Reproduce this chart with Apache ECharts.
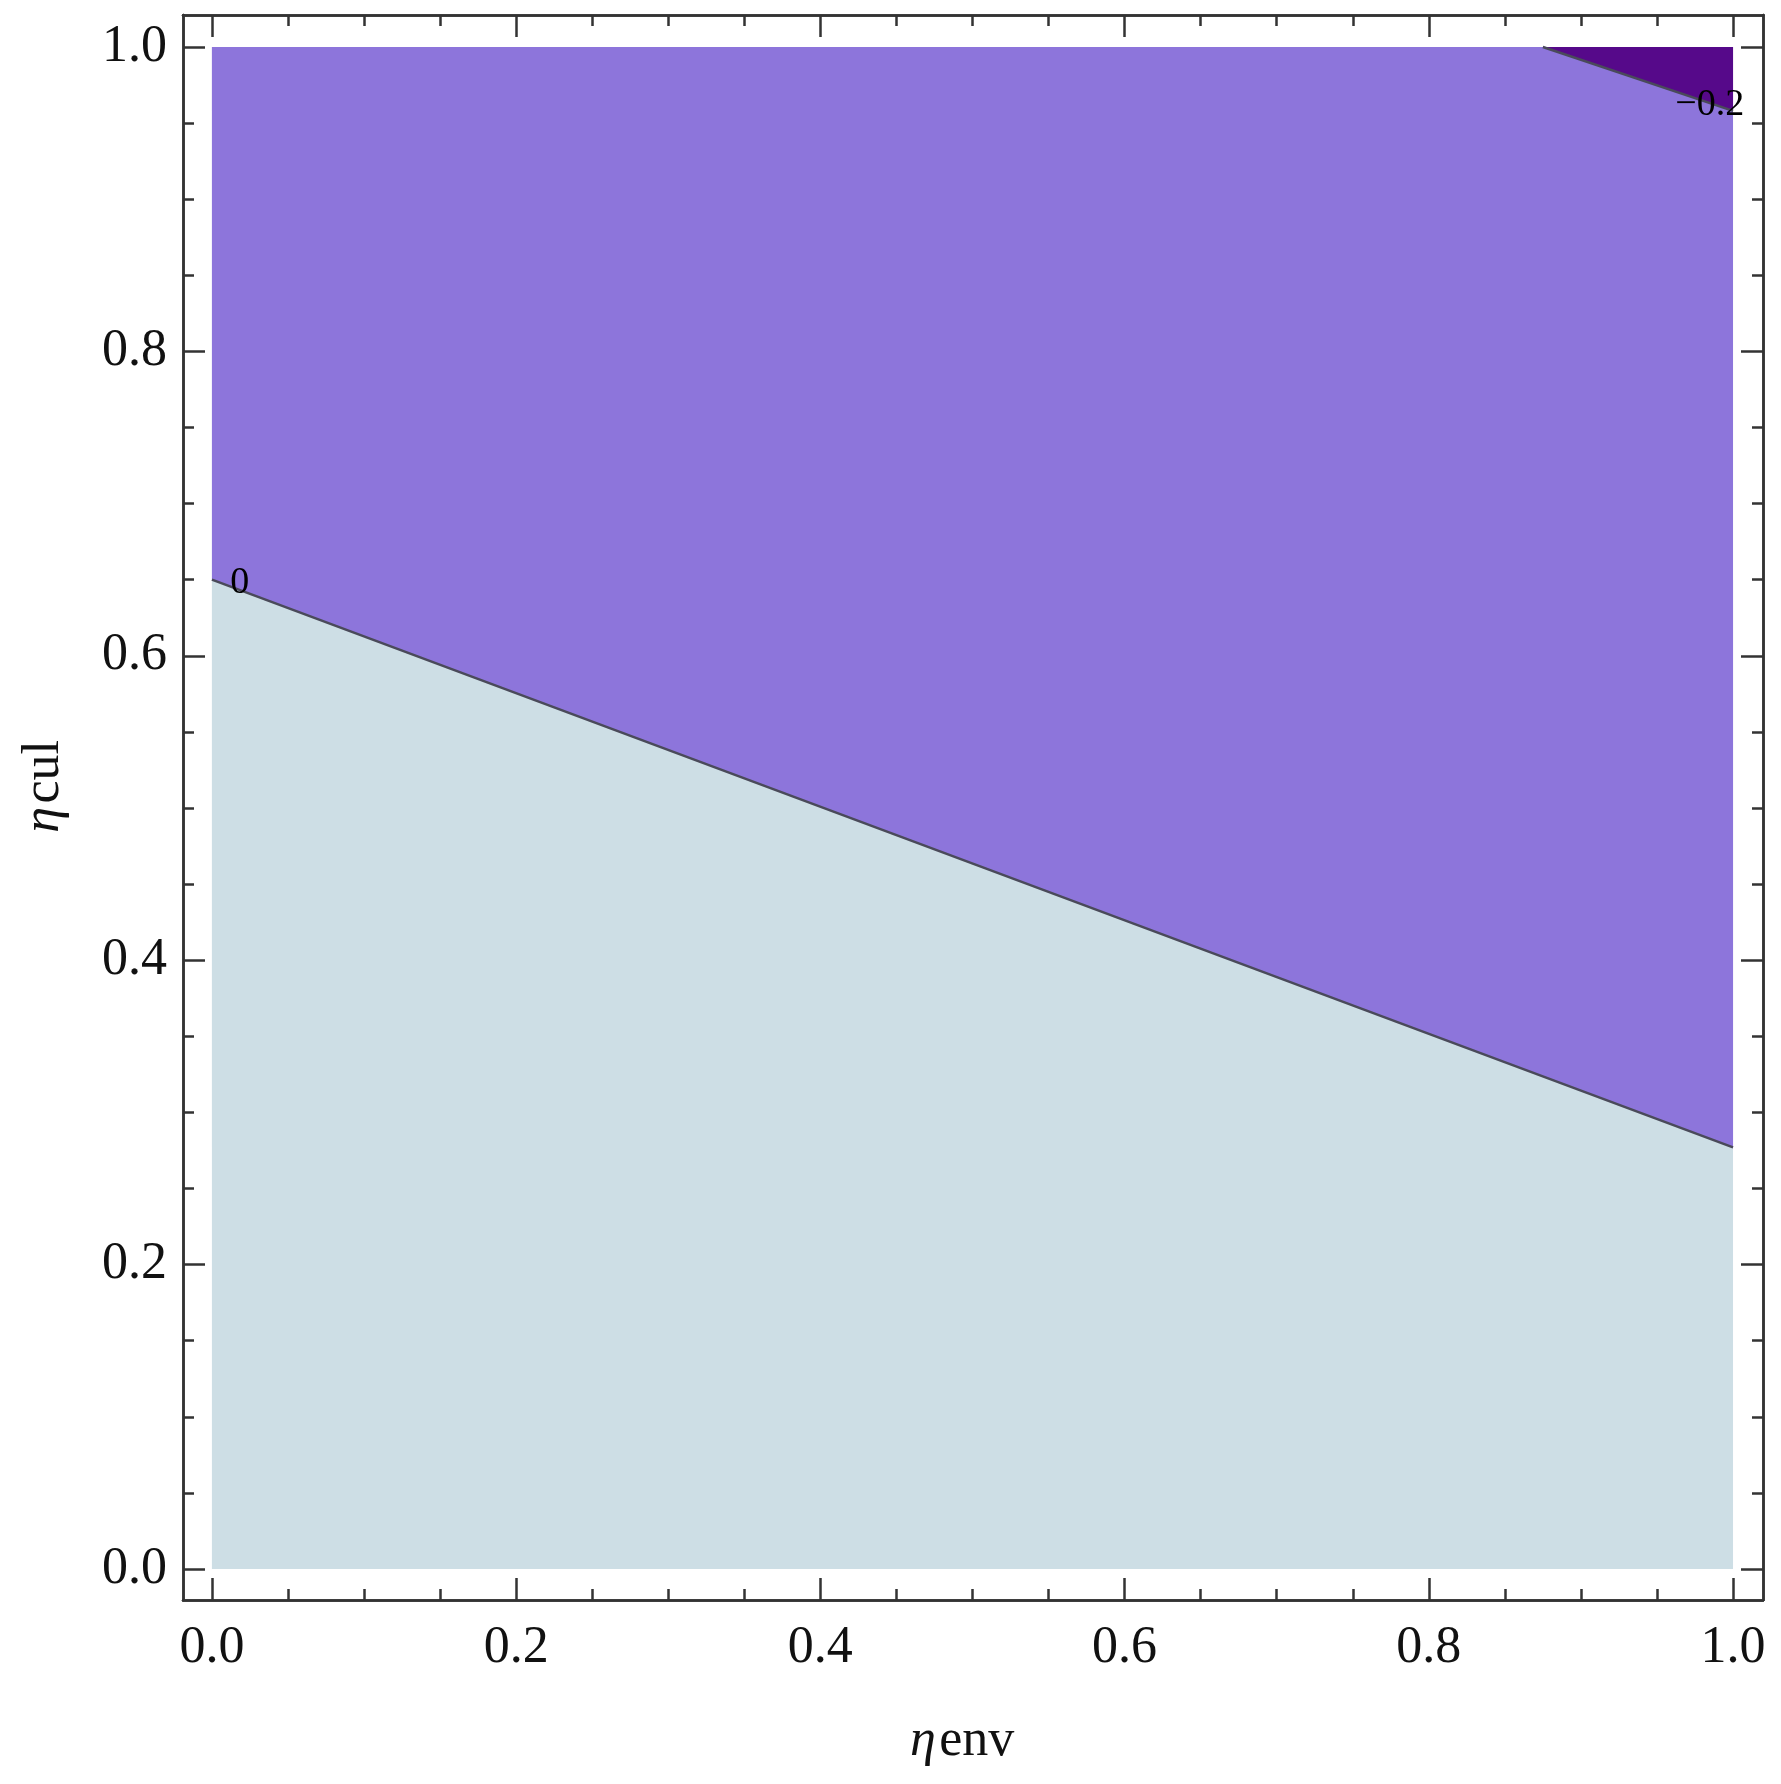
<!DOCTYPE html>
<html><head><meta charset="utf-8">
<script src="https://cdn.jsdelivr.net/npm/echarts@6/dist/echarts.min.js"></script>
<style>html,body{margin:0;padding:0;background:#fff}#c{width:1781px;height:1784px}</style>
</head><body><div id="c"></div>
<script>
const majorTicks = [0, 0.2, 0.4, 0.6, 0.8, 1.0];
const minorTicks = [0.05,0.1,0.15,0.25,0.3,0.35,0.45,0.5,0.55,0.65,0.7,0.75,0.85,0.9,0.95];
// contour level 0: eta_cul = 0.65 - 0.373*eta_env
const zeroLine = [[0, 0.65], [1, 0.277]];
// contour level -0.2
const m02Line = [[0.875, 1.0], [1, 0.958]];
const regionLow = [[0,0],[1,0],[1,0.277],[0,0.65]];
const regionMid = [[0,0.65],[1,0.277],[1,0.958],[0.875,1],[0,1]];
const regionHigh = [[0.875,1],[1,1],[1,0.958]];
const contourLabels = [{text:'0', pos:[0.012,0.648]}, {text:'\u22120.2', pos:[0.962,0.962]}];

const chart = echarts.init(document.getElementById('c'));
const font = 'Liberation Serif';
const xr = {min:-0.019, max:1.0197}, yr = {min:-0.0204, max:1.021};
function ax(pos, custom, len, labels, gi){
  return Object.assign({type:'value', position:pos, gridIndex:0}, (pos==='bottom'||pos==='top')?xr:yr, {
    axisLine:{show:true, onZero:false, lineStyle:{color:'#333', width:2.5}},
    splitLine:{show:false},
    axisTick:{show:true, inside:true, length:len, customValues:custom, lineStyle:{color:'#333', width:2.5}},
    axisLabel:{show:labels, customValues:custom, formatter:v=>v.toFixed(1), fontFamily:font, fontSize:52, color:'#111', margin: pos==='bottom'?22:16}
  });
}
const polys = [
  {pts:regionLow, color:'#cddee5'},
  {pts:regionMid, color:'#8d75db'},
  {pts:regionHigh, color:'#56098a'}
];
chart.setOption({
  animation:false,
  grid:{left:183, right:18, top:15, bottom:184},
  xAxis:[ax('bottom',majorTicks,22,true), ax('top',majorTicks,22,false), ax('bottom',minorTicks,11,false), ax('top',minorTicks,11,false)],
  yAxis:[ax('left',majorTicks,22,true), ax('right',majorTicks,22,false), ax('left',minorTicks,11,false), ax('right',minorTicks,11,false)],
  graphic:[
    {type:'text', left:'center', top:1715, style:{rich:{i:{fontStyle:'italic',fontFamily:font,fontSize:52},n:{fontFamily:font,fontSize:52}}, text:'{i|\u03b7} {n|env}', fill:'#111', x:0}, left:910},
    {type:'text', left:18, top:740, rotation:Math.PI/2, style:{rich:{i:{fontStyle:'italic',fontFamily:font,fontSize:52},n:{fontFamily:font,fontSize:52}}, text:'{i|\u03b7} {n|cul}', fill:'#111'}}
  ],
  series:[{
    type:'custom', xAxisIndex:0, yAxisIndex:0, coordinateSystem:'cartesian2d',
    data:[0], clip:false,
    renderItem:(params, api)=>{
      const children = polys.map(p=>({type:'polygon', shape:{points:p.pts.map(q=>api.coord(q))}, style:{fill:p.color}}));
      [zeroLine, m02Line].forEach(l=>children.push({type:'polyline', shape:{points:l.map(q=>api.coord(q))}, style:{stroke:'#4a4a5a', lineWidth:2.5, fill:null}}));
      contourLabels.forEach(c=>{const p=api.coord(c.pos); children.push({type:'text', x:p[0], y:p[1], style:{text:c.text, fontFamily:font, fontSize:38, fill:'#000', align:'left', verticalAlign:'middle'}});});
      return {type:'group', children};
    }
  }]
});
</script></body></html>
